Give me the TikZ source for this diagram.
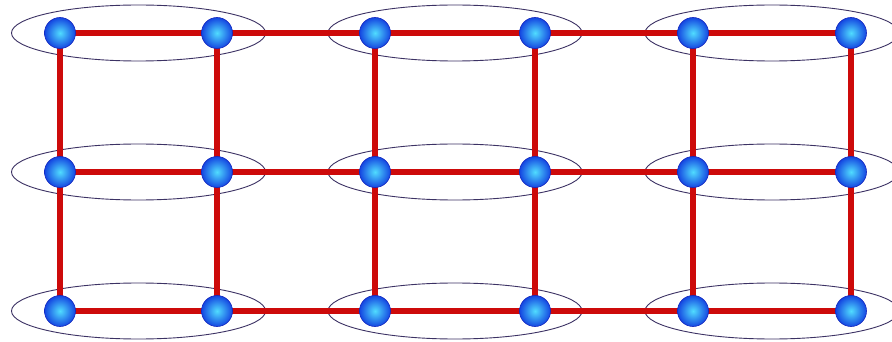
\documentclass[tikz,border=0pt]{standalone}
\begin{document}
\begin{tikzpicture}[x=1pt,y=-1pt,
  ball/.style={circle,minimum size=31pt,inner sep=0pt,draw={rgb,255:red,20;green,40;blue,190},line width=0.6pt,inner color={rgb,255:red,80;green,220;blue,255},outer color={rgb,255:red,20;green,70;blue,225}},
  link/.style={draw={rgb,255:red,205;green,10;blue,10},line width=5.5pt},
  ring/.style={draw={rgb,255:red,60;green,50;blue,100},line width=0.9pt}]
\useasboundingbox[fill=white] (0,0) rectangle (892,342);
% ellipses
\foreach \r/\yy in {1/33,2/172,3/311}{
  \foreach \p/\cx in {1/138.5,2/455,3/772}{
    \draw[ring] (\cx,\yy) ellipse [x radius=127, y radius=28];
  }
}
% coordinates for nodes
\foreach \c/\xx in {1/60,2/217,3/375,4/535,5/693,6/851}{
  \foreach \r/\yy in {1/33,2/172,3/311}{
    \coordinate (p\c\r) at (\xx,\yy);
  }
}
% links
\foreach \r in {1,2,3}{
  \draw[link] (p1\r) -- (p6\r);
}
\foreach \c in {1,...,6}{
  \draw[link] (p\c1) -- (p\c3);
}
% balls
\foreach \c in {1,...,6}{
  \foreach \r in {1,2,3}{
    \node[ball] (n\c\r) at (p\c\r) {};
  }
}
\end{tikzpicture}
\end{document}
